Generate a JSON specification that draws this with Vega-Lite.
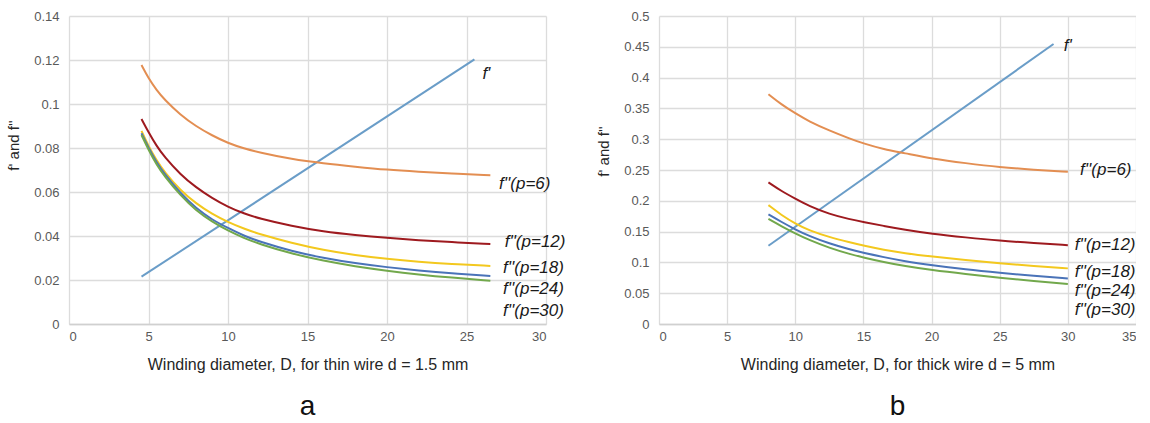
{
  "$schema": "https://vega.github.io/schema/vega-lite/v6.json",
  "background": "white",
  "padding": {"left": 6, "top": 10, "right": 0, "bottom": 0},
  "spacing": 30,
  "config": {
    "view": {"stroke": null},
    "font": "Liberation Sans",
    "axis": {
      "labelFont": "Liberation Sans",
      "labelFontSize": 13,
      "labelColor": "#595959",
      "labelOverlap": false,
      "titleFont": "Liberation Sans",
      "titleFontWeight": "normal",
      "titleColor": "#262626",
      "grid": true,
      "gridColor": "#dcdcdc",
      "gridWidth": 1.3,
      "ticks": false,
      "tickSize": 0,
      "domain": false
    },
    "axisX": {"domain": true, "domainColor": "#d0d0d0", "domainWidth": 1.3, "labelPadding": 6, "titleFontSize": 16, "titlePadding": 13},
    "axisY": {"labelPadding": 10, "titleFontSize": 15, "titlePadding": 12, "titleAlign": "center"},
    "title": {"font": "Liberation Sans", "fontWeight": "normal", "color": "#111111"}
  },
  "datasets": {
    "curves": [
      {"panel": "a", "series": "f'", "D": 4.56, "f": 0.0215},
      {"panel": "a", "series": "f'", "D": 25.5, "f": 0.1203},

      {"panel": "a", "series": "p=6", "D": 4.56, "f": 0.1177},
      {"panel": "a", "series": "p=6", "D": 5, "f": 0.1117},
      {"panel": "a", "series": "p=6", "D": 5.5, "f": 0.1064},
      {"panel": "a", "series": "p=6", "D": 6, "f": 0.102},
      {"panel": "a", "series": "p=6", "D": 7, "f": 0.0951},
      {"panel": "a", "series": "p=6", "D": 8, "f": 0.0898},
      {"panel": "a", "series": "p=6", "D": 9, "f": 0.0857},
      {"panel": "a", "series": "p=6", "D": 10, "f": 0.0822},
      {"panel": "a", "series": "p=6", "D": 11, "f": 0.0798},
      {"panel": "a", "series": "p=6", "D": 12, "f": 0.0779},
      {"panel": "a", "series": "p=6", "D": 14, "f": 0.0749},
      {"panel": "a", "series": "p=6", "D": 16, "f": 0.073},
      {"panel": "a", "series": "p=6", "D": 18, "f": 0.0715},
      {"panel": "a", "series": "p=6", "D": 20, "f": 0.0701},
      {"panel": "a", "series": "p=6", "D": 22, "f": 0.0692},
      {"panel": "a", "series": "p=6", "D": 24, "f": 0.0684},
      {"panel": "a", "series": "p=6", "D": 26.5, "f": 0.0676},

      {"panel": "a", "series": "p=12", "D": 4.56, "f": 0.0932},
      {"panel": "a", "series": "p=12", "D": 5, "f": 0.0872},
      {"panel": "a", "series": "p=12", "D": 5.5, "f": 0.081},
      {"panel": "a", "series": "p=12", "D": 6, "f": 0.076},
      {"panel": "a", "series": "p=12", "D": 7, "f": 0.068},
      {"panel": "a", "series": "p=12", "D": 8, "f": 0.062},
      {"panel": "a", "series": "p=12", "D": 9, "f": 0.0572},
      {"panel": "a", "series": "p=12", "D": 10, "f": 0.0532},
      {"panel": "a", "series": "p=12", "D": 11, "f": 0.0502},
      {"panel": "a", "series": "p=12", "D": 12, "f": 0.0479},
      {"panel": "a", "series": "p=12", "D": 14, "f": 0.0445},
      {"panel": "a", "series": "p=12", "D": 16, "f": 0.042},
      {"panel": "a", "series": "p=12", "D": 18, "f": 0.0404},
      {"panel": "a", "series": "p=12", "D": 20, "f": 0.0391},
      {"panel": "a", "series": "p=12", "D": 22, "f": 0.0381},
      {"panel": "a", "series": "p=12", "D": 24, "f": 0.0372},
      {"panel": "a", "series": "p=12", "D": 26.5, "f": 0.0364},

      {"panel": "a", "series": "p=18", "D": 4.56, "f": 0.0878},
      {"panel": "a", "series": "p=18", "D": 5, "f": 0.0809},
      {"panel": "a", "series": "p=18", "D": 5.5, "f": 0.0745},
      {"panel": "a", "series": "p=18", "D": 6, "f": 0.0691},
      {"panel": "a", "series": "p=18", "D": 7, "f": 0.0608},
      {"panel": "a", "series": "p=18", "D": 8, "f": 0.0547},
      {"panel": "a", "series": "p=18", "D": 9, "f": 0.05},
      {"panel": "a", "series": "p=18", "D": 10, "f": 0.0463},
      {"panel": "a", "series": "p=18", "D": 11, "f": 0.0433},
      {"panel": "a", "series": "p=18", "D": 12, "f": 0.0408},
      {"panel": "a", "series": "p=18", "D": 14, "f": 0.0368},
      {"panel": "a", "series": "p=18", "D": 16, "f": 0.0336},
      {"panel": "a", "series": "p=18", "D": 18, "f": 0.0313},
      {"panel": "a", "series": "p=18", "D": 20, "f": 0.0296},
      {"panel": "a", "series": "p=18", "D": 22, "f": 0.0283},
      {"panel": "a", "series": "p=18", "D": 24, "f": 0.0273},
      {"panel": "a", "series": "p=18", "D": 26.5, "f": 0.0264},

      {"panel": "a", "series": "p=24", "D": 4.56, "f": 0.0867},
      {"panel": "a", "series": "p=24", "D": 5, "f": 0.0802},
      {"panel": "a", "series": "p=24", "D": 5.5, "f": 0.0735},
      {"panel": "a", "series": "p=24", "D": 6, "f": 0.0682},
      {"panel": "a", "series": "p=24", "D": 7, "f": 0.0595},
      {"panel": "a", "series": "p=24", "D": 8, "f": 0.0525},
      {"panel": "a", "series": "p=24", "D": 9, "f": 0.0474},
      {"panel": "a", "series": "p=24", "D": 10, "f": 0.0436},
      {"panel": "a", "series": "p=24", "D": 11, "f": 0.0401},
      {"panel": "a", "series": "p=24", "D": 12, "f": 0.0374},
      {"panel": "a", "series": "p=24", "D": 14, "f": 0.0331},
      {"panel": "a", "series": "p=24", "D": 16, "f": 0.03},
      {"panel": "a", "series": "p=24", "D": 18, "f": 0.0276},
      {"panel": "a", "series": "p=24", "D": 20, "f": 0.0258},
      {"panel": "a", "series": "p=24", "D": 22, "f": 0.0243},
      {"panel": "a", "series": "p=24", "D": 24, "f": 0.023},
      {"panel": "a", "series": "p=24", "D": 26.5, "f": 0.0218},

      {"panel": "a", "series": "p=30", "D": 4.56, "f": 0.0859},
      {"panel": "a", "series": "p=30", "D": 5, "f": 0.0792},
      {"panel": "a", "series": "p=30", "D": 5.5, "f": 0.0725},
      {"panel": "a", "series": "p=30", "D": 6, "f": 0.0672},
      {"panel": "a", "series": "p=30", "D": 7, "f": 0.0585},
      {"panel": "a", "series": "p=30", "D": 8, "f": 0.0515},
      {"panel": "a", "series": "p=30", "D": 9, "f": 0.0465},
      {"panel": "a", "series": "p=30", "D": 10, "f": 0.0424},
      {"panel": "a", "series": "p=30", "D": 11, "f": 0.0391},
      {"panel": "a", "series": "p=30", "D": 12, "f": 0.0363},
      {"panel": "a", "series": "p=30", "D": 14, "f": 0.032},
      {"panel": "a", "series": "p=30", "D": 16, "f": 0.0287},
      {"panel": "a", "series": "p=30", "D": 18, "f": 0.0262},
      {"panel": "a", "series": "p=30", "D": 20, "f": 0.0242},
      {"panel": "a", "series": "p=30", "D": 22, "f": 0.0225},
      {"panel": "a", "series": "p=30", "D": 24, "f": 0.0211},
      {"panel": "a", "series": "p=30", "D": 26.5, "f": 0.0197},

      {"panel": "b", "series": "f'", "D": 8.03, "f": 0.127},
      {"panel": "b", "series": "f'", "D": 28.95, "f": 0.4545},

      {"panel": "b", "series": "p=6", "D": 8.03, "f": 0.373},
      {"panel": "b", "series": "p=6", "D": 9, "f": 0.356},
      {"panel": "b", "series": "p=6", "D": 10, "f": 0.342},
      {"panel": "b", "series": "p=6", "D": 11, "f": 0.329},
      {"panel": "b", "series": "p=6", "D": 12.5, "f": 0.314},
      {"panel": "b", "series": "p=6", "D": 14, "f": 0.301},
      {"panel": "b", "series": "p=6", "D": 15, "f": 0.293},
      {"panel": "b", "series": "p=6", "D": 16.5, "f": 0.2835},
      {"panel": "b", "series": "p=6", "D": 18, "f": 0.2775},
      {"panel": "b", "series": "p=6", "D": 20, "f": 0.2685},
      {"panel": "b", "series": "p=6", "D": 22.5, "f": 0.261},
      {"panel": "b", "series": "p=6", "D": 25, "f": 0.2545},
      {"panel": "b", "series": "p=6", "D": 27.5, "f": 0.2505},
      {"panel": "b", "series": "p=6", "D": 30, "f": 0.247},

      {"panel": "b", "series": "p=12", "D": 8.03, "f": 0.2299},
      {"panel": "b", "series": "p=12", "D": 9, "f": 0.2155},
      {"panel": "b", "series": "p=12", "D": 10, "f": 0.2035},
      {"panel": "b", "series": "p=12", "D": 11, "f": 0.1915},
      {"panel": "b", "series": "p=12", "D": 12.5, "f": 0.1785},
      {"panel": "b", "series": "p=12", "D": 14, "f": 0.17},
      {"panel": "b", "series": "p=12", "D": 15, "f": 0.1655},
      {"panel": "b", "series": "p=12", "D": 16.5, "f": 0.1592},
      {"panel": "b", "series": "p=12", "D": 18, "f": 0.1533},
      {"panel": "b", "series": "p=12", "D": 20, "f": 0.1465},
      {"panel": "b", "series": "p=12", "D": 22.5, "f": 0.1405},
      {"panel": "b", "series": "p=12", "D": 25, "f": 0.1352},
      {"panel": "b", "series": "p=12", "D": 27.5, "f": 0.1315},
      {"panel": "b", "series": "p=12", "D": 30, "f": 0.128},

      {"panel": "b", "series": "p=18", "D": 8.03, "f": 0.193},
      {"panel": "b", "series": "p=18", "D": 9, "f": 0.1765},
      {"panel": "b", "series": "p=18", "D": 10, "f": 0.163},
      {"panel": "b", "series": "p=18", "D": 11, "f": 0.152},
      {"panel": "b", "series": "p=18", "D": 12.5, "f": 0.141},
      {"panel": "b", "series": "p=18", "D": 14, "f": 0.1325},
      {"panel": "b", "series": "p=18", "D": 15, "f": 0.1272},
      {"panel": "b", "series": "p=18", "D": 16.5, "f": 0.1205},
      {"panel": "b", "series": "p=18", "D": 18, "f": 0.115},
      {"panel": "b", "series": "p=18", "D": 20, "f": 0.1095},
      {"panel": "b", "series": "p=18", "D": 22.5, "f": 0.1038},
      {"panel": "b", "series": "p=18", "D": 25, "f": 0.0985},
      {"panel": "b", "series": "p=18", "D": 27.5, "f": 0.0942},
      {"panel": "b", "series": "p=18", "D": 30, "f": 0.0903},

      {"panel": "b", "series": "p=24", "D": 8.03, "f": 0.178},
      {"panel": "b", "series": "p=24", "D": 9, "f": 0.1655},
      {"panel": "b", "series": "p=24", "D": 10, "f": 0.1535},
      {"panel": "b", "series": "p=24", "D": 11, "f": 0.143},
      {"panel": "b", "series": "p=24", "D": 12.5, "f": 0.1305},
      {"panel": "b", "series": "p=24", "D": 14, "f": 0.121},
      {"panel": "b", "series": "p=24", "D": 15, "f": 0.1155},
      {"panel": "b", "series": "p=24", "D": 16.5, "f": 0.1085},
      {"panel": "b", "series": "p=24", "D": 18, "f": 0.102},
      {"panel": "b", "series": "p=24", "D": 20, "f": 0.0955},
      {"panel": "b", "series": "p=24", "D": 22.5, "f": 0.0885},
      {"panel": "b", "series": "p=24", "D": 25, "f": 0.083},
      {"panel": "b", "series": "p=24", "D": 27.5, "f": 0.078},
      {"panel": "b", "series": "p=24", "D": 30, "f": 0.074},

      {"panel": "b", "series": "p=30", "D": 8.03, "f": 0.1705},
      {"panel": "b", "series": "p=30", "D": 9, "f": 0.1585},
      {"panel": "b", "series": "p=30", "D": 10, "f": 0.147},
      {"panel": "b", "series": "p=30", "D": 11, "f": 0.1365},
      {"panel": "b", "series": "p=30", "D": 12.5, "f": 0.1235},
      {"panel": "b", "series": "p=30", "D": 14, "f": 0.1135},
      {"panel": "b", "series": "p=30", "D": 15, "f": 0.108},
      {"panel": "b", "series": "p=30", "D": 16.5, "f": 0.1005},
      {"panel": "b", "series": "p=30", "D": 18, "f": 0.094},
      {"panel": "b", "series": "p=30", "D": 20, "f": 0.0875},
      {"panel": "b", "series": "p=30", "D": 22.5, "f": 0.081},
      {"panel": "b", "series": "p=30", "D": 25, "f": 0.075},
      {"panel": "b", "series": "p=30", "D": 27.5, "f": 0.0695},
      {"panel": "b", "series": "p=30", "D": 30, "f": 0.065}
    ],
    "labels": [
      {"panel": "a", "label": "f'", "D": 26.0, "f": 0.1135},
      {"panel": "a", "label": "f''(p=6)", "D": 27.05, "f": 0.0636},
      {"panel": "a", "label": "f''(p=12)", "D": 27.4, "f": 0.0373},
      {"panel": "a", "label": "f''(p=18)", "D": 27.3, "f": 0.0255},
      {"panel": "a", "label": "f''(p=24)", "D": 27.3, "f": 0.0159},
      {"panel": "a", "label": "f''(p=30)", "D": 27.3, "f": 0.0059},
      {"panel": "b", "label": "f'", "D": 29.7, "f": 0.4506},
      {"panel": "b", "label": "f''(p=6)", "D": 30.9, "f": 0.2505},
      {"panel": "b", "label": "f''(p=12)", "D": 30.5, "f": 0.128},
      {"panel": "b", "label": "f''(p=18)", "D": 30.5, "f": 0.085},
      {"panel": "b", "label": "f''(p=24)", "D": 30.5, "f": 0.054},
      {"panel": "b", "label": "f''(p=30)", "D": 30.5, "f": 0.023}
    ]
  },
  "hconcat": [
    {
      "width": 477,
      "height": 308,
      "title": {"text": "a", "orient": "bottom", "fontSize": 28, "offset": 21},
      "encoding": {
        "x": {"field": "D", "type": "quantitative", "scale": {"domain": [0, 30], "nice": false}, "axis": {"values": [0, 5, 10, 15, 20, 25, 30], "title": "Winding diameter, D, for thin wire d = 1.5 mm"}},
        "y": {"field": "f", "type": "quantitative", "scale": {"domain": [0, 0.14], "nice": false}, "axis": {"values": [0, 0.02, 0.04, 0.06, 0.08, 0.1, 0.12, 0.14], "format": "~g", "title": "f' and f''", "titleY": 129}}
      },
      "layer": [
        {
          "data": {"name": "curves"},
          "transform": [{"filter": "datum.panel === 'a'"}],
          "mark": {"type": "line", "interpolate": "basis", "strokeWidth": 2},
          "encoding": {
            "color": {"field": "series", "type": "nominal", "legend": null, "scale": {"domain": ["f'", "p=6", "p=12", "p=18", "p=24", "p=30"], "range": ["#6a9dc8", "#e38e52", "#9e1a1f", "#f3c81e", "#4a73b8", "#72a84c"]}},
            "strokeWidth": {"condition": {"test": "datum.series === \"f'\"", "value": 1.5}, "value": 2}
          }
        },
        {
          "data": {"name": "labels"},
          "transform": [{"filter": "datum.panel === 'a'"}],
          "mark": {"type": "text", "align": "left", "baseline": "middle", "fontSize": 17, "fontStyle": "italic", "font": "Liberation Sans", "color": "#1a1a1a"},
          "encoding": {"text": {"field": "label"}}
        }
      ]
    },
    {
      "width": 477,
      "height": 308,
      "title": {"text": "b", "orient": "bottom", "fontSize": 28, "offset": 21},
      "encoding": {
        "x": {"field": "D", "type": "quantitative", "scale": {"domain": [0, 35], "nice": false}, "axis": {"values": [0, 5, 10, 15, 20, 25, 30, 35], "title": "Winding diameter, D, for thick wire d = 5 mm"}},
        "y": {"field": "f", "type": "quantitative", "scale": {"domain": [0, 0.5], "nice": false}, "axis": {"values": [0, 0.05, 0.1, 0.15, 0.2, 0.25, 0.3, 0.35, 0.4, 0.45, 0.5], "format": "~g", "title": "f' and f''", "titleY": 135}}
      },
      "layer": [
        {
          "data": {"name": "curves"},
          "transform": [{"filter": "datum.panel === 'b'"}],
          "mark": {"type": "line", "interpolate": "basis", "strokeWidth": 2},
          "encoding": {
            "color": {"field": "series", "type": "nominal", "legend": null, "scale": {"domain": ["f'", "p=6", "p=12", "p=18", "p=24", "p=30"], "range": ["#6a9dc8", "#e38e52", "#9e1a1f", "#f3c81e", "#4a73b8", "#72a84c"]}},
            "strokeWidth": {"condition": {"test": "datum.series === \"f'\"", "value": 1.5}, "value": 2}
          }
        },
        {
          "data": {"name": "labels"},
          "transform": [{"filter": "datum.panel === 'b'"}],
          "mark": {"type": "text", "align": "left", "baseline": "middle", "fontSize": 17, "fontStyle": "italic", "font": "Liberation Sans", "color": "#1a1a1a"},
          "encoding": {"text": {"field": "label"}}
        }
      ]
    }
  ]
}
